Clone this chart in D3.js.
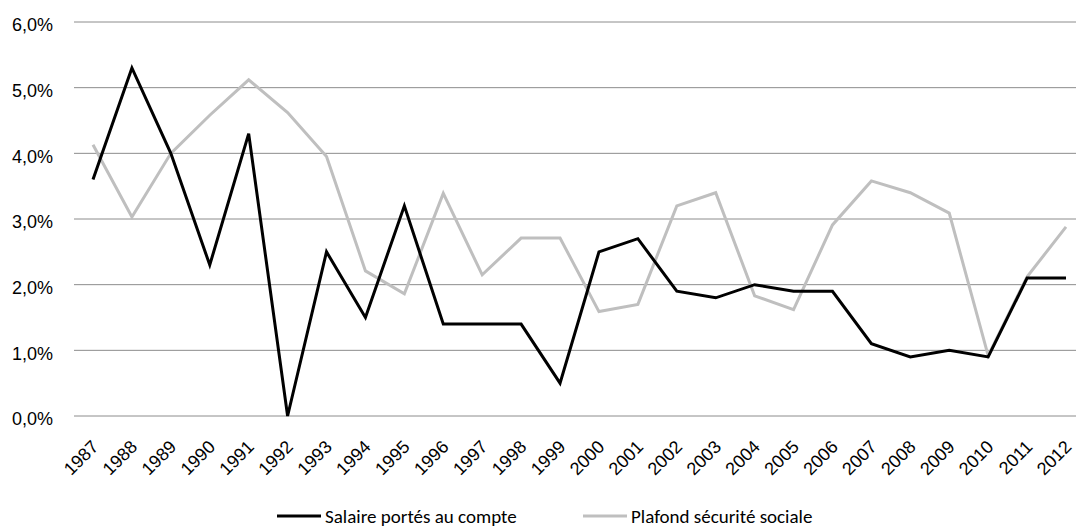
<!DOCTYPE html>
<html>
<head>
<meta charset="utf-8">
<script src="https://cdn.jsdelivr.net/npm/d3@7"></script>
<style>
  body { margin: 0; background: #fff; }
  svg { display: block; font-family: Carlito, Lato, "Open Sans", sans-serif; }
</style>
</head>
<body>
<svg id="chart" width="1076" height="528"></svg>
<script>
// years on the x axis
var years = [1987, 1988, 1989, 1990, 1991, 1992, 1993, 1994, 1995, 1996, 1997, 1998, 1999,
             2000, 2001, 2002, 2003, 2004, 2005, 2006, 2007, 2008, 2009, 2010, 2011, 2012];

// Salaire portés au compte (%)
var salaire = [3.6, 5.3, 4.0, 2.3, 4.3, 0.0, 2.5, 1.5, 3.2, 1.4, 1.4, 1.4, 0.5,
               2.5, 2.7, 1.9, 1.8, 2.0, 1.9, 1.9, 1.1, 0.9, 1.0, 0.9, 2.1, 2.1];

// Plafond sécurité sociale (%)
var plafond = [4.13, 3.03, 4.0, 4.58, 5.12, 4.62, 3.95, 2.21, 1.86, 3.39, 2.15, 2.71, 2.71,
               1.59, 1.7, 3.2, 3.4, 1.83, 1.62, 2.91, 3.58, 3.4, 3.09, 0.92, 2.12, 2.88];

var y_ticks = [0, 1, 2, 3, 4, 5, 6];
var series_names = ["Salaire portés au compte", "Plafond sécurité sociale"];
var series_colors = ["#000000", "#bfbfbf"];

//// SETUP ////////////////////////////////////////////////////////////////////

var svg = d3.select("#chart");

var plot_left = 74,
    plot_right = 1076,
    plot_top = 22,
    plot_bottom = 416;

var x = d3.scalePoint()
    .domain(years)
    .range([93, 1066]);

var y = d3.scaleLinear()
    .domain([0, 6])
    .range([plot_bottom, plot_top]);

var fmt = function(v) { return v.toFixed(1).replace(".", ",") + "%"; };

// gridlines
svg.append("g")
    .selectAll("line")
    .data(y_ticks)
    .join("line")
        .attr("x1", plot_left)
        .attr("x2", plot_right)
        .attr("y1", function(d) { return y(d); })
        .attr("y2", function(d) { return y(d); })
        .attr("stroke", "#8c8c8c")
        .attr("stroke-width", 1);

// y axis labels
var yAxis = svg.append("g")
    .attr("transform", "translate(53,3)")
    .call(d3.axisLeft(y).tickValues(y_ticks).tickFormat(fmt).tickSize(0).tickPadding(0));
yAxis.select(".domain").remove();
yAxis.selectAll("text")
    .attr("fill", "#000")
    .style("font-size", "18px");

// x axis labels (rotated)
var xAxis = svg.append("g")
    .attr("transform", "translate(0," + plot_bottom + ")")
    .call(d3.axisBottom(x).tickSize(0).tickPadding(0));
xAxis.select(".domain").remove();
xAxis.selectAll("text")
    .attr("fill", "#000")
    .style("font-size", "18px")
    .attr("text-anchor", "end")
    .attr("dy", null)
    .attr("y", 0)
    .attr("transform", "translate(6,32) rotate(-45)");

//// LINES ////////////////////////////////////////////////////////////////////

var line = d3.line()
    .x(function(d, i) { return x(years[i]); })
    .y(function(d) { return y(d); });

// plafond drawn first so the black line sits on top
[[plafond, series_colors[1]], [salaire, series_colors[0]]].forEach(function(s) {
    svg.append("path")
        .datum(s[0])
        .attr("fill", "none")
        .attr("stroke", s[1])
        .attr("stroke-width", 3)
        .attr("stroke-linejoin", "miter")
        .attr("d", line);
});

//// LEGEND ///////////////////////////////////////////////////////////////////

var legend_x = [277, 583];
var legend = svg.append("g")
    .selectAll("g")
    .data(series_names)
    .join("g")
        .attr("transform", function(d, i) { return "translate(" + legend_x[i] + ",516)"; });

legend.append("line")
    .attr("x1", 0)
    .attr("x2", 44)
    .attr("stroke", function(d, i) { return series_colors[i]; })
    .attr("stroke-width", 3);

legend.append("text")
    .attr("x", 48)
    .attr("dy", "0.36em")
    .style("font-size", "19px")
    .text(function(d) { return d; });
</script>
</body>
</html>
